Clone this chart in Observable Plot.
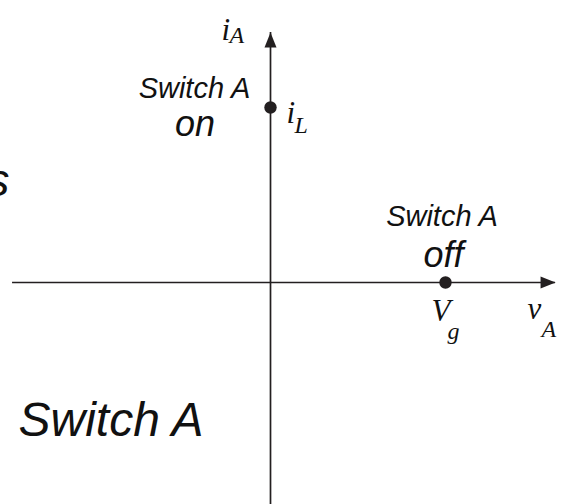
<!DOCTYPE html>
<html>
<head>
<meta charset="utf-8">
<script src="https://cdn.jsdelivr.net/npm/d3@7"></script>
<script src="https://cdn.jsdelivr.net/npm/@observablehq/plot@0.6"></script>
<style>
  html, body { margin: 0; padding: 0; background: #fff; }
  #chart svg { display: block; }
</style>
</head>
<body>
<div id="chart"></div>
<script>
// Switch operating points in the (v_A, i_A) plane, normalised: V_g = 1, i_L = 1
const states = ["on", "off"];
const vA = [0, 1];      // switch voltage at each operating point
const iA = [1, 0];      // switch current at each operating point
const pointSymbol = ["i", "V"];
const pointSub = ["L", "g"];

// Axis extents (normalised units)
const vAxis = [-1.474, 1.629];
const iAxis = [-1.27, 1.429];

const points = states.map((s, k) => ({state: s, v: vA[k], i: iA[k], sym: pointSymbol[k], sub: pointSub[k]}));
const on = points.filter(d => d.state === "on");
const off = points.filter(d => d.state === "off");
const vTip = [{v: vAxis[1], i: 0}];
const iTip = [{v: 0, i: iAxis[1]}];

const ink = "#231f20";
const textInk = "#111";
const sans = "'Liberation Sans', Arial, Helvetica, sans-serif";
const serif = "'Liberation Serif', 'Times New Roman', serif";

const headShape = {
  draw(context, l) {
    context.moveTo(0, -l);
    context.lineTo(-6, 0);
    context.lineTo(6, 0);
    context.closePath();
  }
};

const W = 561, H = 504, unit = 175;
const sansText = (data, opts) => Plot.text(data, {fontFamily: sans, fontStyle: "italic", fill: textInk, lineAnchor: "bottom", ...opts});
const mathText = (data, opts) => Plot.text(data, {fontFamily: serif, fontStyle: "italic", fill: textInk, lineAnchor: "bottom", textAnchor: "start", ...opts});

const chart = Plot.plot({
  width: W,
  height: H,
  margin: 0,
  x: {domain: [-270 / unit, (W - 270) / unit], axis: null},
  y: {domain: [-(H - 282) / unit, 282 / unit], axis: null},
  style: {background: "#fff"},
  marks: [
    Plot.ruleY([0], {x1: vAxis[0], x2: vAxis[1], stroke: ink, strokeWidth: 1.7}),
    Plot.ruleX([0], {y1: iAxis[0], y2: iAxis[1], stroke: ink, strokeWidth: 1.7}),
    Plot.vector(vTip, {x: "v", y: "i", length: 15, rotate: 90, anchor: "end", shape: headShape, fill: ink, stroke: "none"}),
    Plot.vector(iTip, {x: "v", y: "i", length: 15, rotate: 0, anchor: "end", shape: headShape, fill: ink, stroke: "none"}),
    Plot.dot(points, {x: "v", y: "i", r: 6.2, fill: ink, stroke: "none"}),

    // axis labels
    mathText(iTip, {x: "v", y: "i", text: () => "i", fontSize: 31, dx: -49, dy: 8}),
    mathText(iTip, {x: "v", y: "i", text: () => "A", fontSize: 24, dx: -41, dy: 11}),
    mathText(vTip, {x: "v", y: "i", text: () => "v", fontSize: 31, dx: -28, dy: 36}),
    mathText(vTip, {x: "v", y: "i", text: () => "A", fontSize: 24, dx: -14, dy: 54}),

    // operating point value labels
    mathText(on, {x: "v", y: "i", text: "sym", fontSize: 31, dx: 16, dy: 15}),
    mathText(on, {x: "v", y: "i", text: "sub", fontSize: 24, dx: 24, dy: 25}),
    mathText(off, {x: "v", y: "i", text: "sym", fontSize: 31, dx: -14, dy: 38}),
    mathText(off, {x: "v", y: "i", text: "sub", fontSize: 24, dx: 2, dy: 56}),

    // state labels
    sansText(on, {x: "v", y: "i", text: () => "Switch A", fontSize: 29, textAnchor: "middle", dx: -76, dy: -10}),
    sansText(on, {x: "v", y: "i", text: d => d.state, fontSize: 36, textAnchor: "middle", dx: -75.5, dy: 28}),
    sansText(off, {x: "v", y: "i", text: () => "Switch A", fontSize: 29, textAnchor: "middle", dx: -3.5, dy: -57}),
    sansText(off, {x: "v", y: "i", text: d => d.state, fontSize: 36, textAnchor: "middle", dx: -2, dy: -16}),

    // large fragments of surrounding text
    sansText(["Switch A"], {frameAnchor: "bottom-left", text: d => d, fontSize: 48, textAnchor: "start", dx: 18, dy: -69}),
    sansText(["s"], {frameAnchor: "top-left", text: d => d, fontSize: 47, textAnchor: "end", dx: 9, dy: 195})
  ]
});

document.getElementById("chart").append(chart);
</script>
</body>
</html>
